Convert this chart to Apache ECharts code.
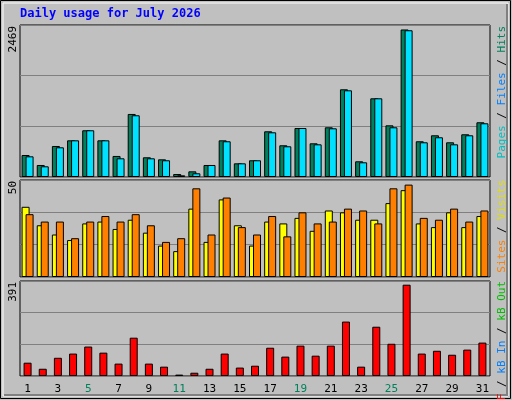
<!DOCTYPE html>
<html><head><meta charset="utf-8">
<script src="https://cdn.jsdelivr.net/npm/echarts@6/dist/echarts.min.js"></script>
<style>html,body{margin:0;padding:0;background:#fff}#c{width:512px;height:400px}</style>
</head><body><div id="c"></div>
<script>
const days = ['1','2','3','4','5','6','7','8','9','10','11','12','13','14','15','16','17','18','19','20','21','22','23','24','25','26','27','28','29','30','31'];
const weekend = ['4','5','11','12','18','19','25','26'];
const hits = [368,201,519,614,782,614,352,1055,330,296,50,95,201,614,229,280,765,531,820,564,832,1468,263,1317,865,2469,598,698,581,715,916];
const files = [346,179,497,614,782,614,313,1033,313,280,28,62,201,598,229,280,748,514,820,547,815,1451,246,1317,832,2456,581,665,547,698,899];
const visits = [38,28,23,20,29,30,26,31,24,17,14,37,19,42,28,17,30,29,32,25,36,35,31,31,40,47,29,27,35,27,33];
const sites = [34,30,30,21,30,33,30,34,28,19,21,48,23,43,27,23,33,22,35,29,30,37,36,29,48,50,32,31,37,30,36];
const kbytes = [57,31,78,96,126,100,53,164,53,40,6,14,31,96,36,44,121,83,130,87,130,233,40,211,138,391,96,108,91,113,143];
const maxLabels = ['2469','50','391'];

const chart = echarts.init(document.getElementById('c'));
const mono = 'DejaVu Sans Mono';
const grids = [
  {left:20, width:470, top:25, height:152},
  {left:20, width:470, top:180, height:97},
  {left:20, width:470, top:281, height:95}
].map(g=>Object.assign(g,{show:true,backgroundColor:'#C0C0C0',borderColor:'#000',borderWidth:1}));
const xAxis = [0,1,2].map(i=>({type:'category',gridIndex:i,data:days,
  axisLine:{show:false},axisTick:{show:false},
  axisLabel:{show:i===2,margin:8,fontFamily:mono,fontSize:11,
    color:(v)=>weekend.includes(v)?'#00805C':'#000'}}));
const yMax=[2544,52.5,406.8];
const yAxis = [0,1,2].map(i=>({type:'value',gridIndex:i,min:0,max:yMax[i],interval:yMax[i]/3,
  axisLabel:{show:false},axisLine:{show:false},axisTick:{show:false},
  splitLine:{lineStyle:{color:'#808080',width:1}}}));
const bs = {borderColor:'#000',borderWidth:1};
const series = [
  {type:'bar',xAxisIndex:0,yAxisIndex:0,data:hits,barWidth:8,barGap:'-50%',itemStyle:Object.assign({color:'#00805C'},bs)},
  {type:'bar',xAxisIndex:0,yAxisIndex:0,data:files,barWidth:8,itemStyle:Object.assign({color:'#00E0FF'},bs)},
  {type:'bar',xAxisIndex:1,yAxisIndex:1,data:visits,barWidth:8,barGap:'-50%',itemStyle:Object.assign({color:'#FFFF00'},bs)},
  {type:'bar',xAxisIndex:1,yAxisIndex:1,data:sites,barWidth:8,itemStyle:Object.assign({color:'#FF8000'},bs)},
  {type:'bar',xAxisIndex:2,yAxisIndex:2,data:kbytes,barWidth:8,itemStyle:Object.assign({color:'#FF0000'},bs)}
];
const sideY=[25,180,281];
const graphic = [
  {type:'rect',shape:{x:0.5,y:0.5,width:510,height:398},style:{fill:'none',stroke:'#000',lineWidth:1},z:-1},
  {type:'rect',shape:{x:3,y:3,width:505,height:393},style:{fill:'#C0C0C0',stroke:'#fff',lineWidth:1},z:-2},
  {type:'line',shape:{x1:4,y1:395,x2:508,y2:395},style:{stroke:'#808080',lineWidth:2}},
  {type:'line',shape:{x1:507,y1:4,x2:507,y2:395},style:{stroke:'#808080',lineWidth:2}},
  {type:'text',left:20,top:8,style:{text:'Daily usage for July 2026',fill:'#0000FF',font:'bold 12px '+mono}}
];
maxLabels.forEach((t,i)=>{
  graphic.push({type:'text',x:8,y:sideY[i]+1,rotation:Math.PI/2,
    style:{text:t,fill:'#000',font:'11px '+mono,align:'right',verticalAlign:'top'}});
});
function side(y,parts){
  graphic.push({type:'text',x:497,y:y,rotation:Math.PI/2,
    style:{align:'right',verticalAlign:'top',font:'11px '+mono,
      text:parts.map((p,i)=>'{s'+i+'|'+p[0]+'}').join(''),
      rich:Object.fromEntries(parts.map((p,i)=>['s'+i,{fill:p[1],font:'11px '+mono}]))}});
}
side(26,[['Pages','#00C0C0'],[' / ','#000'],['Files','#0080FF'],[' / ','#000'],['Hits','#00805C']]);
side(180,[['Sites','#FF8000'],[' / ','#000'],['Visits','#E0E000']]);
side(281,[['kB F','#FF0000'],[' / ','#000'],['kB In','#0080FF'],[' / ','#000'],['kB Out','#00C000']]);
chart.setOption({animation:false,backgroundColor:'#C0C0C0',grid:grids,xAxis,yAxis,series,graphic});
</script></body></html>
